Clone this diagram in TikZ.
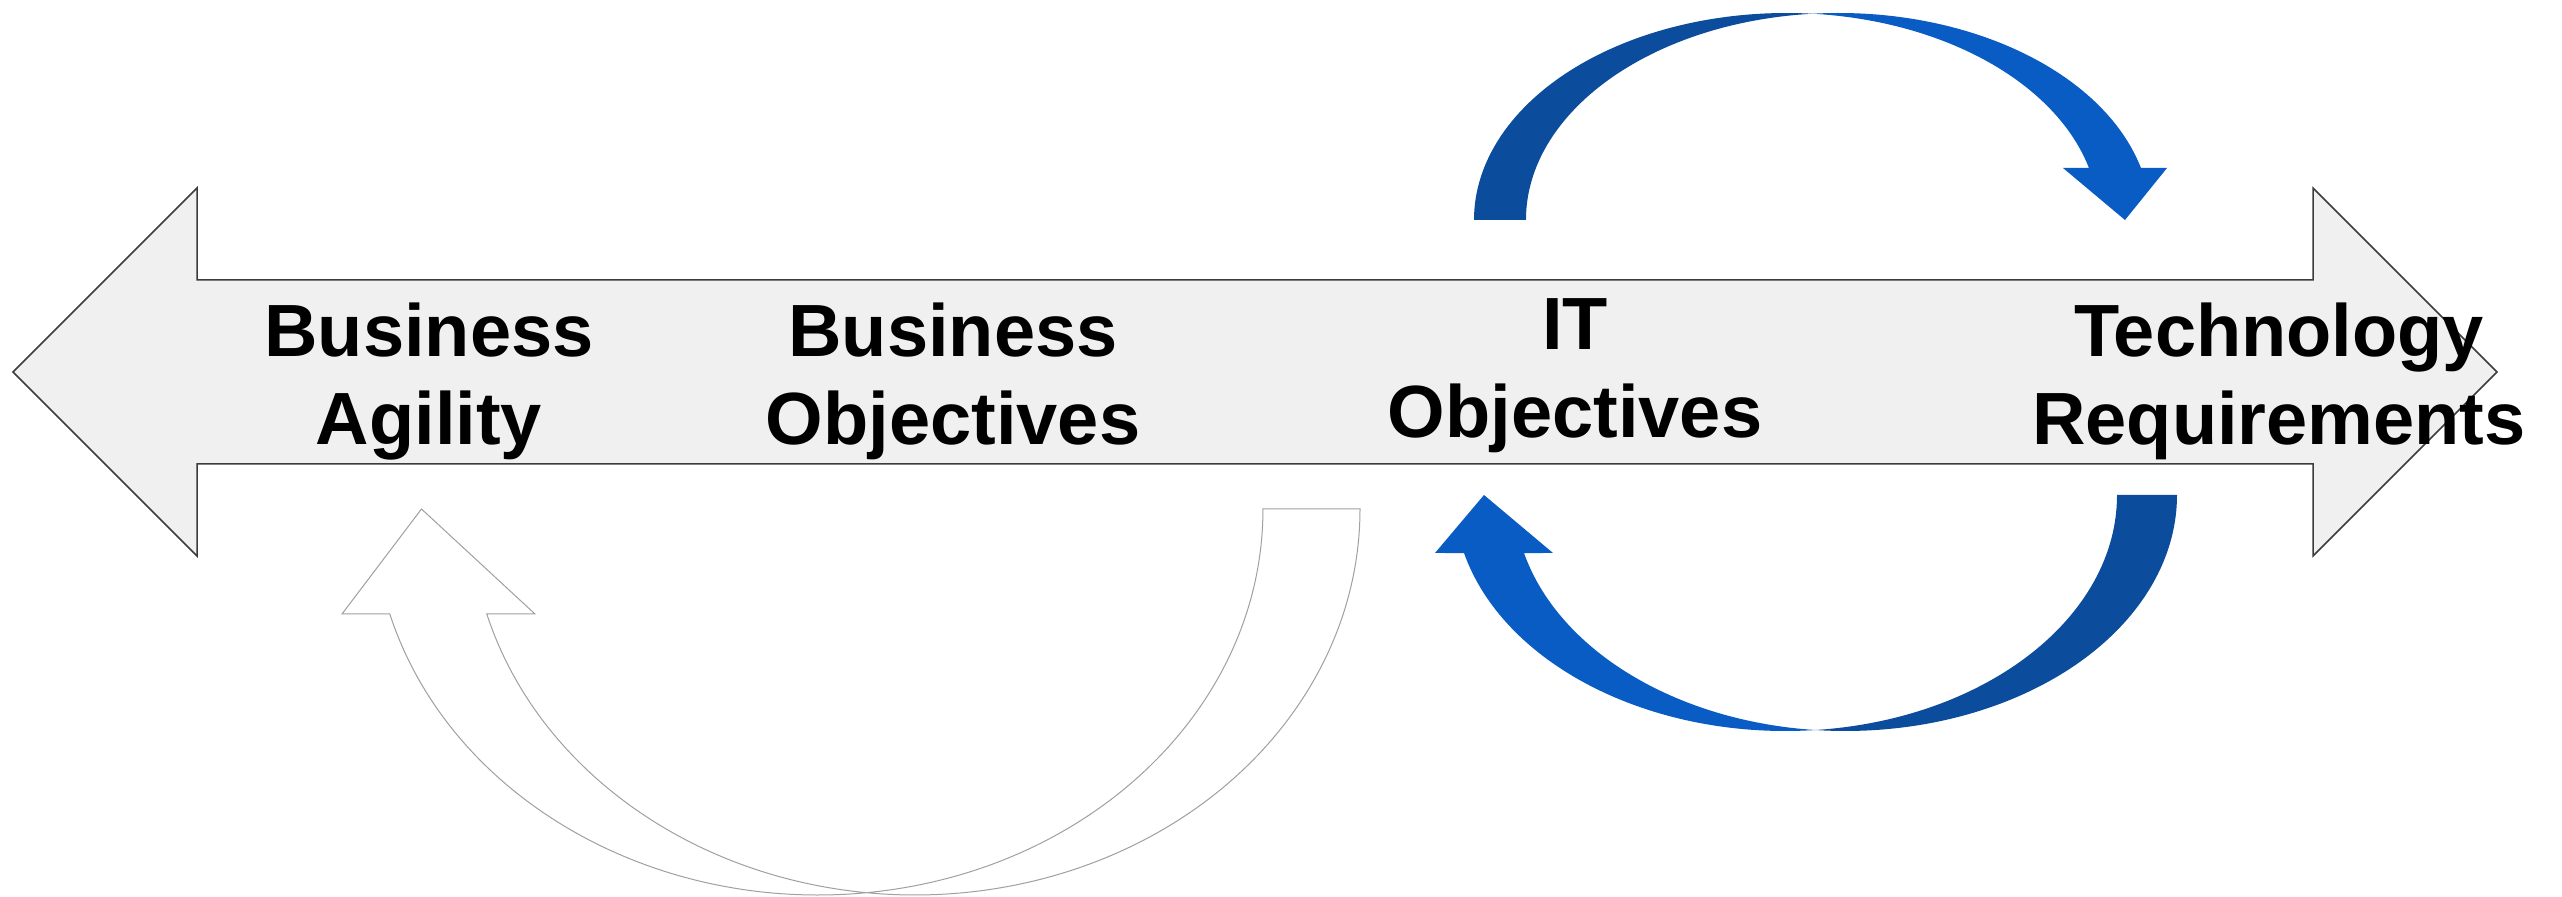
\documentclass[tikz,border=0pt]{standalone}
\usepackage{fontspec}
\setmainfont{Liberation Sans}
\usetikzlibrary{calc}
\definecolor{arrowfill}{HTML}{F0F0F0}
\definecolor{arrowline}{HTML}{3C3C3C}
\definecolor{bluedark}{HTML}{0B4C9D}
\definecolor{bluelight}{HTML}{0A5CC5}
\definecolor{outl}{HTML}{A0A0A0}
\begin{document}
\begin{tikzpicture}[x=0.3pt,y=0.3pt,
  lbl/.style={font=\bfseries\fontsize{22.2}{26.4}\selectfont, align=center, inner sep=0pt},
  bigarrow/.style={fill=arrowfill, draw=arrowline, line width=0.45pt, line join=miter},
  outlinearrow/.style={draw=outl, fill=white, line width=0.3pt},
  topell/.style={x radius=312.5, y radius=207},
  botell/.style={x radius=331.6, y radius=236},
  outell/.style={x radius=445, y radius=386}]
\fill[white] (0,0) rectangle (2562,896);
\useasboundingbox (0,0) rectangle (2562,896);

% double-headed gray arrow
\draw[bigarrow] (13,524) -- (197,708) -- (197,616) -- (2313,616) -- (2313,708) -- (2497,524)
  -- (2313,340) -- (2313,432) -- (197,432) -- (197,340) -- cycle;

% labels (base anchor = baseline of the last line)
\node[lbl, anchor=base] (agility) at (429,451) {Business\\Agility};
\node[lbl, anchor=base] (bizobj) at (953,451) {Business\\Objectives};
\node[lbl, anchor=base] (itobj) at (1575,458) {IT\\Objectives};
\node[lbl, anchor=base] (techreq) at (2279,451) {Technology\\Requirements};

% top blue curved arrow
\coordinate (t1) at (1786.5,676);
\coordinate (t2) at (1838.5,676);
\fill[bluedark] ($(t1)+(180:312.5 and 207)$) arc[start angle=180,end angle=85.23,topell]
  arc[start angle=94.77,end angle=180,topell] -- cycle;
\fill[bluelight] ($(t2)+(94.77:312.5 and 207)$) arc[start angle=94.77,end angle=14.55,topell]
  -- (2167,728) -- (2125,676) -- (2063,728) -- ($(t1)+(14.55:312.5 and 207)$)
  arc[start angle=14.55,end angle=85.23,topell] -- cycle;

% bottom blue curved arrow
\coordinate (b1) at (1845.4,401);
\coordinate (b2) at (1785.4,401);
\fill[bluedark] ($(b1)+(0:331.6 and 236)$) arc[start angle=360,end angle=264.81,botell]
  arc[start angle=275.19,end angle=360,botell] -- cycle;
\fill[bluelight] ($(b2)+(275.19:331.6 and 236)$) arc[start angle=275.19,end angle=194.23,botell]
  -- (1435,343) -- (1484,401) -- (1553,343) -- ($(b1)+(194.23:331.6 and 236)$)
  arc[start angle=194.23,end angle=264.81,botell] -- cycle;

% outlined curved arrow
\coordinate (o1) at (915,387);
\coordinate (o2) at (818,387);
\draw[outlinearrow] ($(o1)+(0:445 and 386)$) arc[start angle=360,end angle=263.74,outell]
  arc[start angle=276.26,end angle=360,outell] -- cycle;
\draw[outlinearrow] ($(o2)+(276.26:445 and 386)$) arc[start angle=276.26,end angle=195.78,outell]
  -- (342,282) -- (421.5,387) -- (535,282) -- ($(o1)+(195.78:445 and 386)$)
  arc[start angle=195.78,end angle=263.74,outell] -- cycle;
\end{tikzpicture}
\end{document}
